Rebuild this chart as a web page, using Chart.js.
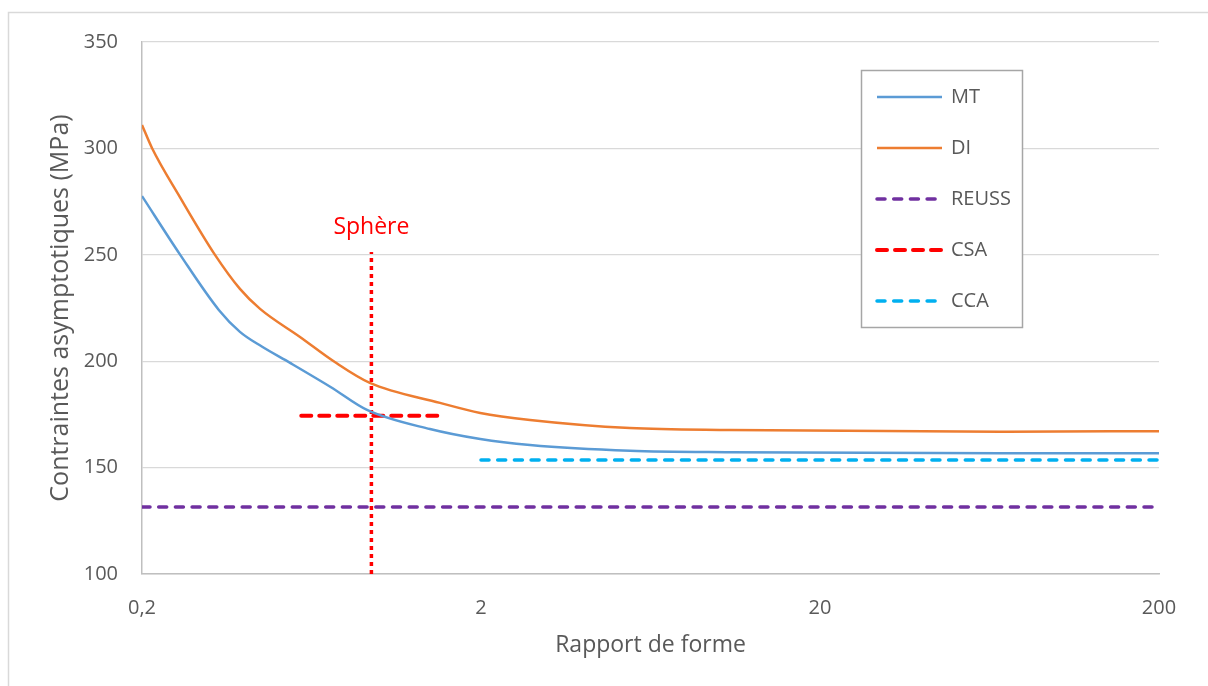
<!DOCTYPE html>
<html>
<head>
<meta charset="utf-8">
<script src="https://cdn.jsdelivr.net/npm/chart.js@4.4.1/dist/chart.umd.min.js"></script>
<style>
html,body{margin:0;padding:0;background:#fff;}
canvas{display:block;}
</style>
</head>
<body>
<canvas id="c" width="1208" height="686"></canvas>
<script>
// ---- data ----
const xTicks = [0.2, 2, 20, 200];
const yTicks = [100, 150, 200, 250, 300, 350];

const mtX = [0.2, 0.259, 0.337, 0.389, 0.45, 0.547, 0.72, 0.922, 1.414, 1.99, 2.79, 5.5, 10.85, 67.9, 200];
const mtY = [277.6, 250.1, 224.1, 213.8, 207.0, 199.2, 187.9, 177.1, 168.1, 163.4, 160.6, 157.9, 157.2, 156.7, 156.7];

const diX = [0.2, 0.214, 0.259, 0.328, 0.389, 0.446, 0.585, 0.741, 0.94, 1.514, 1.99, 2.79, 5.5, 10.85, 67.9, 200];
const diY = [311.0, 300.2, 277.0, 250.1, 234.0, 224.6, 211.4, 199.6, 189.8, 180.4, 175.7, 172.4, 168.6, 167.7, 166.9, 167.1];

const reussX = [0.2, 200];
const reussY = [131.5, 131.5];

const csaX = [0.59, 1.5];
const csaY = [174.4, 174.4];

const ccaX = [2, 200];
const ccaY = [153.6, 153.6];

const sphereX = [0.95, 0.95];
const sphereY = [100, 251.3];
const sphereLabel = 'Sphère';
const sphereLabelY = 263;

const seriesNames = ['MT', 'DI', 'REUSS', 'CSA', 'CCA'];

const pts = (xs, ys) => xs.map((x, i) => ({x: x, y: ys[i]}));
const TXT = '#595959';
const FONT = "'Open Sans', sans-serif";

const datasets = [
  {label: seriesNames[0], data: pts(mtX, mtY), borderColor: '#5b9bd5', borderWidth: 2.5, cubicInterpolationMode: 'monotone', inLegend: true},
  {label: seriesNames[1], data: pts(diX, diY), borderColor: '#ed7d31', borderWidth: 2.5, cubicInterpolationMode: 'monotone', inLegend: true},
  {label: seriesNames[2], data: pts(reussX, reussY), borderColor: '#7030a0', borderWidth: 3.5, borderDash: [8, 8.7], borderCapStyle: 'round', inLegend: true},
  {label: seriesNames[3], data: pts(csaX, csaY), borderColor: '#ff0000', borderWidth: 4, borderDash: [10, 8], borderCapStyle: 'round', inLegend: true},
  {label: seriesNames[4], data: pts(ccaX, ccaY), borderColor: '#00b0f0', borderWidth: 3.5, borderDash: [8, 8.7], borderCapStyle: 'round', inLegend: true},
  {label: sphereLabel, data: pts(sphereX, sphereY), borderColor: '#ff0000', borderWidth: 3.5, borderDash: [4, 4], borderCapStyle: 'butt', inLegend: false}
];
datasets.forEach(d => { d.pointRadius = 0; d.pointHoverRadius = 0; d.fill = false; d.backgroundColor = d.borderColor; });

const framePlugin = {
  id: 'frame',
  beforeDraw(chart) {
    const ctx = chart.ctx;
    ctx.save();
    ctx.fillStyle = '#fff';
    ctx.fillRect(0, 0, chart.width, chart.height);
    ctx.strokeStyle = '#d9d9d9';
    ctx.lineWidth = 1.5;
    ctx.strokeRect(8.5, 12.5, 1400, 900);
    ctx.restore();
  }
};

const annotPlugin = {
  id: 'annot',
  afterDraw(chart) {
    const ctx = chart.ctx;
    const xs = chart.scales.x, ys = chart.scales.y;
    ctx.save();
    // Sphère label
    ctx.fillStyle = '#ff0000';
    ctx.font = "23px " + FONT;
    ctx.textAlign = 'center';
    ctx.textBaseline = 'middle';
    ctx.fillText(sphereLabel, xs.getPixelForValue(sphereX[0]), ys.getPixelForValue(sphereLabelY));
    // Legend box
    const bx = 861, by = 70, bw = 161, bh = 257;
    ctx.fillStyle = '#fff';
    ctx.fillRect(bx, by, bw, bh);
    ctx.strokeStyle = '#a6a6a6';
    ctx.lineWidth = 1.5;
    ctx.strokeRect(bx + 0.5, by + 0.5, bw, bh);
    const items = chart.data.datasets.filter(d => d.inLegend);
    items.forEach((d, i) => {
      const y = 97 + i * 51;
      ctx.strokeStyle = d.borderColor;
      ctx.lineWidth = d.borderWidth;
      ctx.lineCap = d.borderCapStyle || 'butt';
      ctx.setLineDash(d.borderDash || []);
      ctx.beginPath();
      ctx.moveTo(877, y);
      ctx.lineTo(942, y);
      ctx.stroke();
      ctx.setLineDash([]);
      ctx.fillStyle = TXT;
      ctx.font = "20px " + FONT;
      ctx.textAlign = 'left';
      ctx.textBaseline = 'middle';
      ctx.fillText(d.label, 951, y);
    });
    ctx.restore();
  }
};

new Chart(document.getElementById('c'), {
  type: 'line',
  data: {datasets: datasets},
  options: {
    responsive: false,
    animation: false,
    devicePixelRatio: 1,
    layout: {padding: {left: 0, top: 42, right: 49, bottom: 0}},
    plugins: {legend: {display: false}, tooltip: {enabled: false}},
    scales: {
      x: {
        type: 'logarithmic',
        min: 0.2, max: 200,
        afterBuildTicks: s => { s.ticks = xTicks.map(v => ({value: v})); },
        afterFit: s => { s.height = 112; },
        ticks: {
          autoSkip: false, maxRotation: 0, padding: 22,
          color: TXT, font: {family: FONT, size: 20},
          callback: v => String(v).replace('.', ',')
        },
        grid: {color: 'rgba(0,0,0,0)', drawTicks: false},
        border: {display: true, color: '#bfbfbf', width: 1.5},
        title: {display: true, text: 'Rapport de forme', color: TXT, font: {family: FONT, size: 23}, padding: {top: 0, bottom: 27}}
      },
      y: {
        type: 'linear',
        min: 100, max: 350,
        afterBuildTicks: s => { s.ticks = yTicks.map(v => ({value: v})); },
        afterFit: s => { s.width = 142; },
        ticks: {padding: 24, color: TXT, font: {family: FONT, size: 20}},
        grid: {color: '#d9d9d9', lineWidth: 1.3, drawTicks: false},
        border: {display: true, color: '#bfbfbf', width: 1.5},
        title: {display: true, text: 'Contraintes asymptotiques (MPa)', color: TXT, font: {family: FONT, size: 25}, padding: {top: 46, bottom: 0}}
      }
    }
  },
  plugins: [framePlugin, annotPlugin]
});
</script>
</body>
</html>
